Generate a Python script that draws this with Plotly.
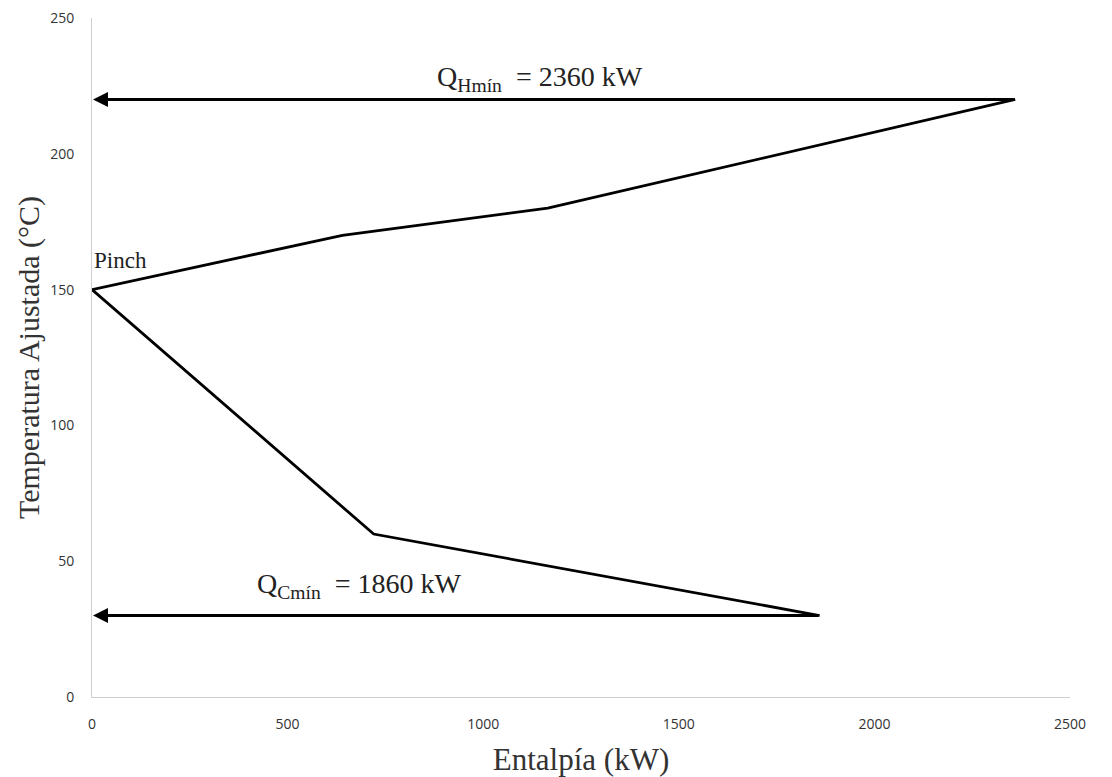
import plotly.graph_objects as go

# Grand composite curve data
enthalpy = [2360, 1165, 640, 0, 720, 1860]
temperature = [220, 180, 170, 150, 60, 30]

q_hmin = 2360
t_hmin = 220
q_cmin = 1860
t_cmin = 30

x_ticks = [0, 500, 1000, 1500, 2000, 2500]
y_ticks = [0, 50, 100, 150, 200, 250]

fig = go.Figure()
fig.add_trace(go.Scatter(x=enthalpy, y=temperature, mode="lines",
                         line=dict(color="black", width=2.8), showlegend=False,
                         hoverinfo="skip"))

# Arrows
for qv, tv in [(q_hmin, t_hmin), (q_cmin, t_cmin)]:
    fig.add_annotation(x=0, y=tv, ax=qv, ay=tv, xref="x", yref="y", axref="x", ayref="y",
                       showarrow=True, arrowhead=2, arrowsize=1.0, arrowwidth=3,
                       arrowcolor="black", standoff=1, text="")

fig.add_annotation(x=1145, y=t_hmin + 0.5, xref="x", yref="y", showarrow=False,
                   text="Q<sub>Hmín</sub>  = 2360 kW", yanchor="bottom",
                   font=dict(family="Liberation Serif", size=28, color="#222"))
fig.add_annotation(x=685, y=t_cmin + 4, xref="x", yref="y", showarrow=False,
                   text="Q<sub>Cmín</sub>  = 1860 kW", yanchor="bottom",
                   font=dict(family="Liberation Serif", size=28, color="#222"))
fig.add_annotation(x=0, y=155.5, xref="x", yref="y", showarrow=False,
                   text="Pinch", xanchor="left", yanchor="bottom",
                   font=dict(family="Liberation Serif", size=23, color="#222"))

axis_common = dict(showgrid=False, zeroline=False, showline=True, linecolor="#cfcfcf",
                   linewidth=1, ticks="", automargin=False, ticklabeloverflow="allow",
                   tickfont=dict(family="Open Sans", size=14, color="#333"))

fig.update_xaxes(range=[0, 2500], tickvals=x_ticks, ticklabelstandoff=14,
                 title=dict(text="Entalpía (kW)", standoff=17,
                            font=dict(family="Liberation Serif", size=31, color="#333")),
                 **axis_common)
fig.update_yaxes(range=[0, 250], tickvals=y_ticks, ticklabelstandoff=14,
                 title=dict(text="Temperatura Ajustada (°C)", standoff=1,
                            font=dict(family="Liberation Serif", size=30, color="#333")),
                 **axis_common)

fig.update_layout(width=1104, height=769, plot_bgcolor="white", paper_bgcolor="white",
                  margin=dict(l=84, r=42, t=10, b=80))

fig.write_html("out.html")
